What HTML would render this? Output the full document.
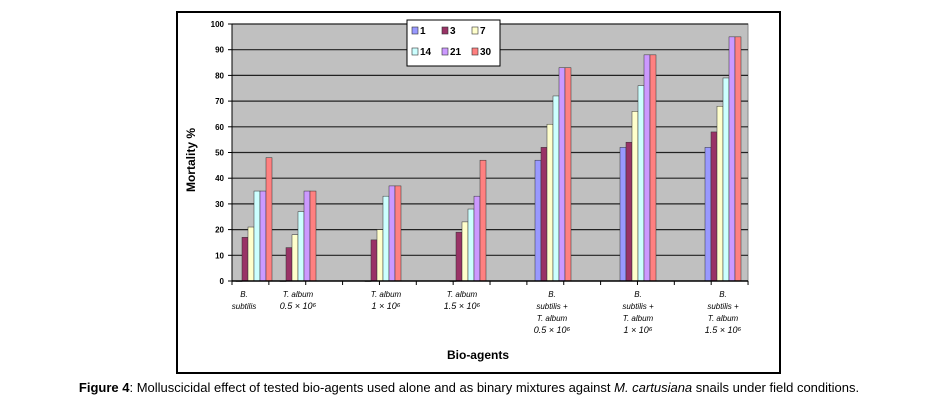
<!DOCTYPE html>
<html><head><meta charset="utf-8"><style>
body{margin:0;background:#fff;width:938px;height:412px;overflow:hidden;font-family:"Liberation Sans",sans-serif}
</style></head><body>
<svg width="938" height="412" xmlns="http://www.w3.org/2000/svg" id="svg">
<rect x="177" y="12" width="603" height="361" fill="#fff" stroke="#000" stroke-width="2"/>
<rect x="232" y="24" width="516" height="257" fill="#c0c0c0" stroke="#888"/>
<g id="grid"></g><g id="bars"></g><g id="axis"></g>
<text x="195" y="160" transform="rotate(-90 195 160)" text-anchor="middle" font-size="12" font-weight="bold">Mortality %</text>
<text x="478" y="359" text-anchor="middle" font-size="12" font-weight="bold">Bio-agents</text>
<g id="legend">
<rect x="407" y="20" width="93" height="46" fill="#fff" stroke="#000"/>
</g>
<text x="469" y="392" text-anchor="middle" font-size="13"><tspan font-weight="bold">Figure 4</tspan>: Molluscicidal effect of tested bio-agents used alone and as binary mixtures against <tspan font-style="italic">M. cartusiana</tspan> snails under field conditions.</text>
</svg>
<script>
const series=["1","3","7","14","21","30"];
const colors=["#9999ff","#993366","#ffffcc","#ccffff","#cc99ff","#ff8080"];
const groups=["B. subtilis","T. album 0.5","T. album 1","T. album 1.5","Mix 0.5","Mix 1","Mix 1.5"];
const groupCenters=[254,298,383,468,553,638,723];
const v1=[0,0,0,0,47,52,52];
const v3=[17,13,16,19,52,54,58];
const v7=[21,18,20,23,61,66,68];
const v14=[35,27,33,28,72,76,79];
const v21=[35,35,37,33,83,88,95];
const v30=[48,35,37,47,83,88,95];
const yTicks=[0,10,20,30,40,50,60,70,80,90,100];
const vals=[v1,v3,v7,v14,v21,v30];
const NS="http://www.w3.org/2000/svg";
const y=v=>281-v*2.57;
function mk(t,a,p){const e=document.createElementNS(NS,t);for(const k in a)e.setAttribute(k,a[k]);p.appendChild(e);return e;}
const grid=document.getElementById('grid'),bars=document.getElementById('bars'),axis=document.getElementById('axis');
yTicks.forEach(t=>{
 if(t>0){const l=mk('line',{x1:232,x2:748,y1:y(t),y2:y(t),stroke:'#222','stroke-width':1.2},grid);
 
 }
 const tx=mk('text',{x:224,y:y(t)+3,'text-anchor':'end','font-size':8,'font-weight':'bold'},axis);tx.textContent=t;
 
 
 mk('line',{x1:228,x2:232,y1:y(t),y2:y(t),stroke:'#000'},axis);
});
mk('line',{x1:232,x2:232,y1:24,y2:281,stroke:'#000'},axis);
mk('line',{x1:232,x2:748,y1:281,y2:281,stroke:'#000','stroke-width':1.5},axis);
for(let i=0;i<15;i++){mk('line',{x1:232+i*36.86,x2:232+i*36.86,y1:281,y2:285,stroke:'#000'},axis);}
const bw=6;
groups.forEach((g,gi)=>{
 vals.forEach((arr,si)=>{
  const x=groupCenters[gi]-18+si*bw, v=arr[gi];
  const r=mk('rect',{x:x,y:y(v),width:bw,height:Math.max(0.5,281-y(v)),fill:colors[si],stroke:'#333','stroke-width':0.5},bars);
  
  
 });
});
const labels=[["B.","subtilis"],["T. album","0.5 × 10⁶"],["T. album","1 × 10⁶"],["T. album","1.5 × 10⁶"],["B.","subtilis +","T. album","0.5 × 10⁶"],["B.","subtilis +","T. album","1 × 10⁶"],["B.","subtilis +","T. album","1.5 × 10⁶"]];
const lx=[244,298,386,462,552,638,723];
labels.forEach((ls,i)=>{ls.forEach((s,j)=>{
 const t=mk('text',{x:lx[i],y:297+j*12,'text-anchor':'middle','font-size':j==ls.length-1&&i>0?9:8,'font-style':'italic'},axis);t.textContent=s;
 
 
});});
const leg=document.getElementById('legend');
series.forEach((s,i)=>{
 const col=i%3,row=Math.floor(i/3);
 const x=412+col*30,yy=27+row*21;
 mk('rect',{x:x,y:yy,width:6,height:7,fill:colors[i],stroke:'#333','stroke-width':0.6},leg);
 const t=mk('text',{x:x+8,y:yy+7,'font-size':10,'font-weight':'bold'},leg);t.textContent=s;
 
 
});
</script>
</body></html>
